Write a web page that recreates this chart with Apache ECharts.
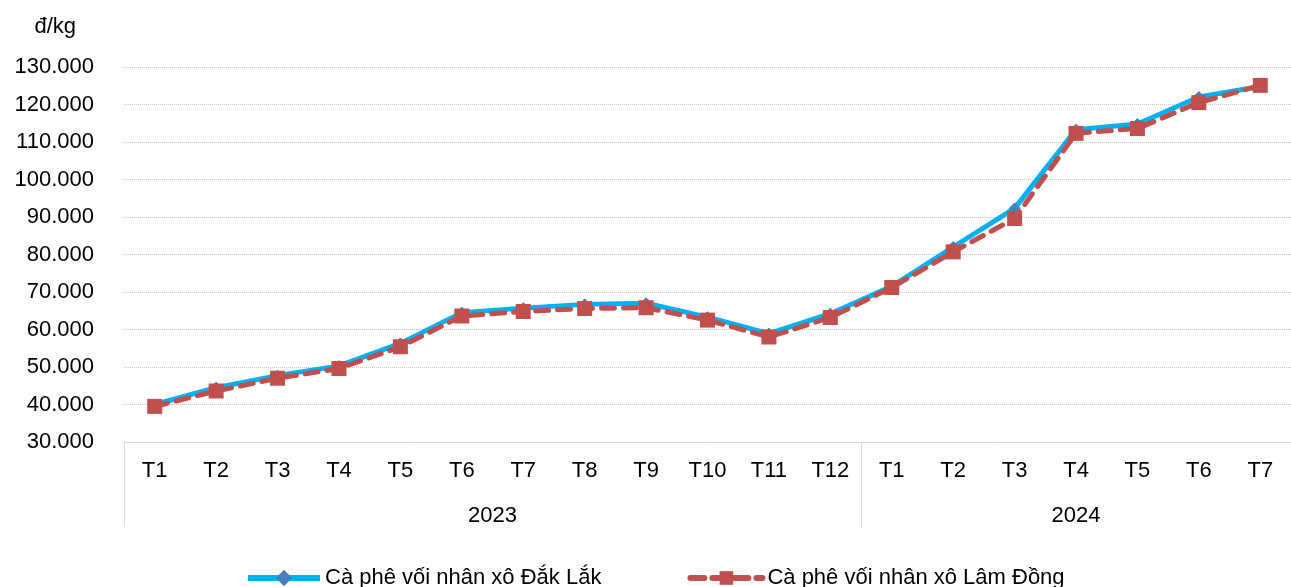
<!DOCTYPE html>
<html>
<head>
<meta charset="utf-8">
<script src="https://cdn.jsdelivr.net/npm/echarts@6/dist/echarts.min.js"></script>
<style>
  html, body { margin: 0; padding: 0; background: #fff; }
  #chart { width: 1291px; height: 587px; }
</style>
</head>
<body>
<div id="chart"></div>
<script>
// du lieu
var months = ["T1", "T2", "T3", "T4", "T5", "T6", "T7", "T8", "T9", "T10", "T11", "T12",
              "T1", "T2", "T3", "T4", "T5", "T6", "T7"];
var years = ["2023", "2024"];
var yearMonths = [12, 7];
var dakLak = [40000, 44500, 47700, 50300, 56300, 64500, 65700, 66700, 67000, 63300, 58900, 64200,
              71500, 82000, 92300, 113300, 114800, 122000, 124800];
var lamDong = [39500, 43600, 47000, 49600, 55400, 63600, 64800, 65600, 65800, 62500, 58000, 63200,
               71200, 80700, 89600, 112300, 113600, 120500, 125100];
var yMin = 30000, yMax = 130000, yStep = 10000;

var font = "Liberation Sans, Arial, sans-serif";

// vi tri nhan nam (giua nhom thang) va vach ngan cach
var yearCenter = {};
var yearStart = [];
var acc = 0;
for (var i = 0; i < years.length; i++) {
  yearStart.push(acc);
  yearCenter[acc + yearMonths[i] / 2] = years[i];
  acc += yearMonths[i];
}

function fmt(v) {
  return String(v).replace(/\B(?=(\d{3})+(?!\d))/g, ".");
}

var myChart = echarts.init(document.getElementById("chart"));
myChart.setOption({
  animation: false,
  textStyle: { fontFamily: font },
  grid: { left: 124, right: 0, top: 67, bottom: 145, outerBoundsMode: "none", containLabel: false },
  legend: {
    left: 240,
    top: 562,
    itemWidth: 72,
    itemHeight: 17,
    itemGap: 86,
    textStyle: { fontSize: 22, color: "#000", fontFamily: font },
    data: [
      {
        name: "Cà phê vối nhân xô Đắk Lắk",
        lineStyle: { width: 6, color: "#00B0F0" }
      },
      {
        name: "Cà phê vối nhân xô Lâm Đồng",
        lineStyle: { width: 6, color: "#C0504D", type: [14, 8], cap: "round" }
      }
    ]
  },
  xAxis: [
    {
      type: "category",
      data: months,
      boundaryGap: true,
      axisLine: { lineStyle: { color: "#d9d9d9", width: 1 } },
      axisTick: {
        show: true,
        length: 85,
        lineStyle: { color: "#d9d9d9" },
        interval: function (idx) { return yearStart.indexOf(idx) >= 0; }
      },
      axisLabel: {
        interval: 0,
        margin: 18,
        fontSize: 22,
        color: "#000",
        fontFamily: font
      },
      splitLine: { show: false }
    },
    {
      type: "value",
      position: "bottom",
      min: 0,
      max: months.length,
      interval: 0.5,
      axisLine: { show: false },
      axisTick: { show: false },
      splitLine: { show: false },
      axisLabel: {
        margin: 63,
        fontSize: 22,
        color: "#000",
        fontFamily: font,
        showMinLabel: true,
        showMaxLabel: true,
        formatter: function (v) { return yearCenter[v] || ""; }
      }
    }
  ],
  yAxis: {
    type: "value",
    min: yMin,
    max: yMax,
    interval: yStep,
    name: "đ/kg",
    nameLocation: "end",
    nameGap: 40,
    nameTextStyle: {
      fontSize: 22,
      color: "#000",
      fontFamily: font,
      align: "right",
      verticalAlign: "middle",
      padding: [0, 48, 0, 0]
    },
    axisLine: { show: false },
    axisTick: { show: false },
    axisLabel: {
      margin: 30,
      fontSize: 22,
      color: "#000",
      fontFamily: font,
      formatter: fmt
    },
    splitLine: {
      show: true,
      lineStyle: { type: "dotted", color: "#c8c8c8", width: 1 }
    }
  },
  series: [
    {
      name: "Cà phê vối nhân xô Đắk Lắk",
      type: "line",
      xAxisIndex: 0,
      data: dakLak,
      symbol: "diamond",
      symbolSize: 11,
      lineStyle: { color: "#00B0F0", width: 5 },
      itemStyle: { color: "#4A7EBB", borderColor: "#4A7EBB", borderWidth: 1 },
      emphasis: { disabled: true },
      z: 2
    },
    {
      name: "Cà phê vối nhân xô Lâm Đồng",
      type: "line",
      xAxisIndex: 0,
      data: lamDong,
      symbol: "rect",
      symbolSize: 15,
      lineStyle: { color: "#C0504D", width: 5, type: [13, 9], cap: "round" },
      itemStyle: { color: "#C0504D" },
      emphasis: { disabled: true },
      z: 3
    }
  ]
});
</script>
</body>
</html>
